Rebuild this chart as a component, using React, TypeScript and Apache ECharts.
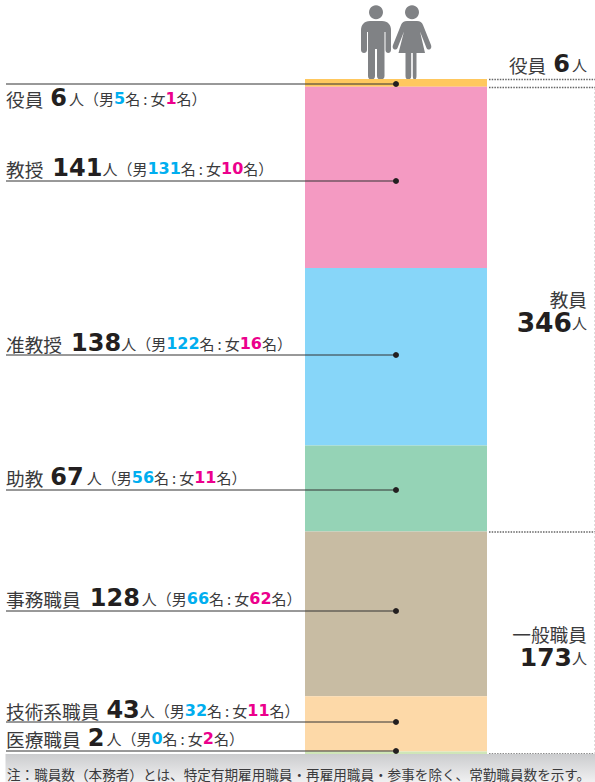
import React, { useEffect, useRef } from "react";
import * as echarts from "echarts";

const categories = ["役員", "教授", "准教授", "助教", "事務職員", "技術系職員", "医療職員"];
const totals = [6, 141, 138, 67, 128, 43, 2];
const males = [5, 131, 122, 56, 66, 32, 0];
const females = [1, 10, 16, 11, 62, 11, 2];
const colors = ["#FFC85E", "#F49AC2", "#87D6F9", "#95D3B6", "#C8BCA3", "#FDD9A8", "#CFE6B8"];
const leaderValues = [3.9, 79.3, 214.7, 319.7, 413.8, 500.1, 522.7];
const labelY = [98, 168, 343, 477, 598, 710, 738];
const countGaps = [7, 9, 9, 7, 9, 7, 7];
const unitGaps = [2, 0, 0, 3, 2, 0, 2];
const summaries = [
  { name: "役員", count: "6" },
  { name: "教員", count: "346" },
  { name: "一般職員", count: "173" },
];
const note = "注：職員数（本務者）とは、特定有期雇用職員・再雇用職員・参事を除く、常勤職員数を示す。";

const JP = '"Noto Sans CJK JP", "Noto Sans", sans-serif';
const NUM = '"DejaVu Sans", sans-serif';
const INK = "#231F20";
const TXT = "#3a3a3c";
const FIG = "#808285";

const manPath =
  "M370 21H382C388 21 391 25 391 30V50C391 54 385.500 54 385.500 50V32H384.500V76C384.500 81 377 81 377 76V49H375V76C375 81 368 81 368 76V32H367V50C367 54 361 54 361 50V30C361 25 364 21 370 21Z";
const womanPath =
  "M407 21H417C420 21 422 22.500 423 25L431 45C432.500 49.500 428 51 426.500 48L420 31.500L425 53H416.500V76C416.500 81 412.800 81 412.800 76V53H411.200V76C411.200 81 405.500 81 405.500 76V53H398.500L404 31.500L397.500 48C396 51 391.500 49.500 393 45L401 25C402 22.500 404 21 407 21Z";
echarts.graphic.registerShape("man", (echarts.graphic as any).extendPath(manPath, {}));
echarts.graphic.registerShape("woman", (echarts.graphic as any).extendPath(womanPath, {}));

const rich: Record<string, any> = {
  n: { fontFamily: JP, fontSize: 18.7, fill: TXT, color: TXT, lineHeight: 20 },
  c: { fontFamily: NUM, fontSize: 25, fontWeight: 700, color: INK, fill: INK, lineHeight: 20 },
  d: { fontFamily: NUM, fontSize: 26.5, fontWeight: 700, color: INK, fill: INK, lineHeight: 20 },
  u: { fontFamily: JP, fontSize: 15, color: TXT, fill: TXT, lineHeight: 20 },
  s: { fontFamily: JP, fontSize: 15, color: TXT, fill: TXT, lineHeight: 20 },
  k: { fontFamily: JP, fontSize: 15, color: TXT, fill: TXT, lineHeight: 20, padding: [0, 3, 0, 3] },
  m: { fontFamily: NUM, fontSize: 16, fontWeight: 700, color: "#00AEEF", fill: "#00AEEF", lineHeight: 20 },
  f: { fontFamily: NUM, fontSize: 16, fontWeight: 700, color: "#EC008C", fill: "#EC008C", lineHeight: 20 },
};
countGaps.forEach((g, i) => {
  rich["c" + i] = { ...rich.c, fontSize: 24, padding: [0, unitGaps[i], 0, g] };
});

function labelText(i: number) {
  return `{n|${categories[i]}}{c${i}|${totals[i]}}{u|人}{s|（男}{m|${males[i]}}{s|名}{k|:}{s|女}{f|${females[i]}}{s|名）}`;
}

function dotted(x1: number, y1: number, x2: number, y2: number, stroke = "#666") {
  return {
    type: "line",
    shape: { x1, y1, x2, y2 },
    style: { stroke, lineWidth: 1.6, lineDash: [1.5, 1.2] },
    silent: true,
  };
}

function buildOption() {
  const bars = categories.map((c, i) => ({
    name: c,
    type: "bar",
    stack: "all",
    barWidth: "100%",
    data: [totals[i]],
    itemStyle: { color: colors[i] },
    silent: true,
  }));
  return {
    animation: false,
    grid: { left: 305, top: 79, width: 182, height: 675 },
    xAxis: { type: "category", data: ["職員"], show: false },
    yAxis: { type: "value", inverse: true, min: 0, max: 525, show: false },
    series: [
      ...bars,
      {
        type: "custom",
        silent: true,
        clip: false,
        z: 5,
        data: leaderValues.map((v) => [0, v]),
        renderItem: (_p: any, api: any) => {
          const pt = api.coord([0, api.value(1)]);
          const y = Math.round(pt[1]);
          return {
            type: "group",
            children: [
              { type: "line", shape: { x1: 6, y1: y, x2: pt[0], y2: y }, style: { stroke: "#333", lineWidth: 1 } },
              { type: "circle", shape: { cx: pt[0], cy: y, r: 3 }, style: { fill: "#231F20" } },
            ],
          };
        },
      },
    ],
    graphic: [
      { type: "rect", shape: { x: 5.5, y: 754, width: 589.5, height: 28 }, z: 3,
        style: { fill: new echarts.graphic.LinearGradient(0, 0, 0, 1, [
          { offset: 0, color: "#CBCCCE" }, { offset: 1, color: "#F0F0F1" } ]) } },
      { type: "text", x: 7, y: 773.5, z: 4, style: { text: note, fontFamily: JP, fontSize: 13.6, fill: TXT, verticalAlign: "middle" } },
      { type: "man", x: 0, y: 0, style: { fill: FIG } },
      { type: "circle", shape: { cx: 376, cy: 12.3, r: 7 }, style: { fill: FIG } },
      { type: "woman", x: 0, y: 0, style: { fill: FIG } },
      { type: "circle", shape: { cx: 412, cy: 12.3, r: 7 }, style: { fill: FIG } },
      ...categories.map((_, i) => ({
        type: "text", x: 6, y: labelY[i],
        style: { text: labelText(i), rich, verticalAlign: "middle", align: "left", fontFamily: JP },
      })),
      dotted(489, 79.5, 595, 79.5),
      dotted(489, 87.5, 595, 87.5),
      dotted(489, 532, 595, 532),
      dotted(489, 754, 595, 754),
      { type: "line", shape: { x1: 594.5, y1: 88, x2: 594.5, y2: 754 },
        style: { stroke: "#ddd", lineWidth: 1, lineDash: [2, 2] } },
      { type: "text", x: 587, y: 64, style: { text: `{n|${summaries[0].name}}{c0|${summaries[0].count}}{u|人}`, rich, align: "right", verticalAlign: "middle" } },
      { type: "text", x: 587, y: 298, style: { text: `{n|${summaries[1].name}}`, rich, align: "right", verticalAlign: "middle" } },
      { type: "text", x: 587, y: 322, style: { text: `{d|${summaries[1].count}}{u|人}`, rich, align: "right", verticalAlign: "middle" } },
      { type: "text", x: 587, y: 633, style: { text: `{n|${summaries[2].name}}`, rich, align: "right", verticalAlign: "middle" } },
      { type: "text", x: 587, y: 657, style: { text: `{c|${summaries[2].count}}{u|人}`, rich, align: "right", verticalAlign: "middle" } },
    ],
  };
}

export default function App() {
  const ref = useRef<HTMLDivElement>(null);
  useEffect(() => {
    document.body.style.margin = "0";
    const chart = echarts.init(ref.current!, undefined, { renderer: "svg" });
    chart.setOption(buildOption() as any);
    return () => chart.dispose();
  }, []);
  return <div ref={ref} style={{ width: 595, height: 782 }} />;
}
